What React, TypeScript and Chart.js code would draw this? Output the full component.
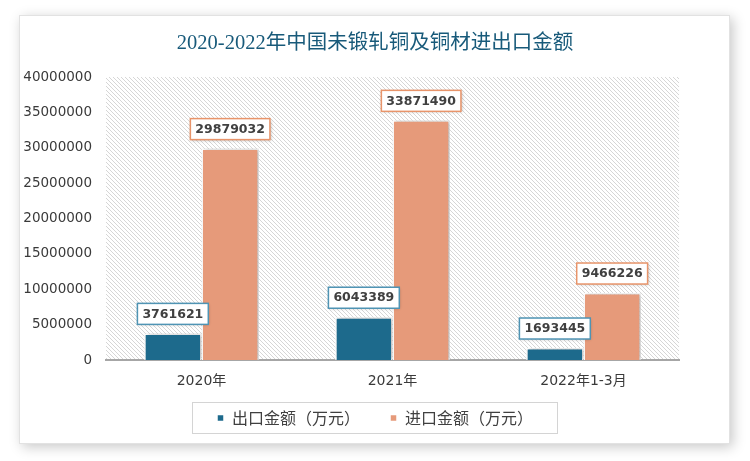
import { useEffect, useRef } from 'react';
import { Chart, registerables } from 'chart.js';

Chart.register(...registerables);

const titleText = '2020-2022年中国未锻轧铜及铜材进出口金额';
const categories = ['2020年', '2021年', '2022年1-3月'];
const seriesNames = ['出口金额（万元）', '进口金额（万元）'];
const exportValues = [3761621, 6043389, 1693445];
const importValues = [29879032, 33871490, 9466226];
const yMin = 0;
const yMax = 40000000;
const yStep = 5000000;

const barColors = ['#1d6a8c', '#e69a7a'];
const labelBorderColors = ['#4f94b4', '#e8946a'];

function makeHatch(): CanvasPattern | string {
  const c = document.createElement('canvas');
  c.width = 4;
  c.height = 4;
  const g = c.getContext('2d');
  if (!g) return '#eee';
  g.fillStyle = '#ffffff';
  g.fillRect(0, 0, 4, 4);
  g.fillStyle = '#d6d6d6';
  for (let i = 0; i < 4; i++) g.fillRect(i, i, 1, 1);
  const p = g.createPattern(c, 'repeat');
  return p || '#eee';
}

const hatchPlugin = {
  id: 'hatchBg',
  beforeDraw(chart: any) {
    const { ctx, chartArea } = chart;
    if (!chartArea) return;
    ctx.save();
    ctx.fillStyle = makeHatch();
    ctx.fillRect(chartArea.left, chartArea.top, chartArea.right - chartArea.left, chartArea.bottom - chartArea.top);
    ctx.restore();
  },
};

const titlePlugin = {
  id: 'centerTitle',
  afterDraw(chart: any) {
    const ctx = chart.ctx;
    ctx.save();
    ctx.font = '20.5px "Liberation Serif", "Noto Sans CJK SC", serif';
    ctx.fillStyle = '#185a7a';
    ctx.textAlign = 'center';
    ctx.textBaseline = 'middle';
    ctx.fillText(titleText, chart.width / 2, 44);
    ctx.restore();
  },
};

const barShadowPlugin = {
  id: 'barShadow',
  beforeDatasetDraw(chart: any) {
    const ctx = chart.ctx;
    ctx.save();
    ctx.shadowColor = 'rgba(0,0,0,0.28)';
    ctx.shadowBlur = 4;
    ctx.shadowOffsetX = 2;
    ctx.shadowOffsetY = 0;
  },
  afterDatasetDraw(chart: any) {
    chart.ctx.restore();
  },
};

const labelPlugin = {
  id: 'boxLabels',
  afterDatasetsDraw(chart: any) {
    const ctx = chart.ctx;
    ctx.save();
    ctx.font = 'bold 12.5px "DejaVu Sans"';
    ctx.textAlign = 'center';
    ctx.textBaseline = 'middle';
    chart.data.datasets.forEach((ds: any, di: number) => {
      const meta = chart.getDatasetMeta(di);
      meta.data.forEach((bar: any, i: number) => {
        const text = String(ds.data[i]);
        const tw = ctx.measureText(text).width;
        const w = tw + 10;
        const h = 21;
        const x = bar.x - w / 2;
        const y = bar.y - 9 - h;
        ctx.save();
        ctx.shadowColor = 'rgba(0,0,0,0.25)';
        ctx.shadowBlur = 3;
        ctx.shadowOffsetX = 1;
        ctx.shadowOffsetY = 1;
        ctx.fillStyle = '#ffffff';
        ctx.fillRect(x, y, w, h);
        ctx.restore();
        ctx.strokeStyle = labelBorderColors[di];
        ctx.lineWidth = 1.5;
        ctx.strokeRect(x, y, w, h);
        ctx.fillStyle = '#404040';
        ctx.fillText(text, bar.x, y + h / 2 + 0.5);
      });
    });
    ctx.restore();
  },
};

const legendBoxPlugin = {
  id: 'legendBox',
  afterDraw(chart: any) {
    const ctx = chart.ctx;
    ctx.save();
    ctx.strokeStyle = '#d4d4d4';
    ctx.lineWidth = 1;
    ctx.strokeRect(192.5, 402.5, 365, 31);
    ctx.restore();
  },
};

export default function App() {
  const ref = useRef<HTMLCanvasElement | null>(null);
  useEffect(() => {
    if (!ref.current) return;
    const chart = new Chart(ref.current, {
      type: 'bar',
      data: {
        labels: categories,
        datasets: [
          {
            label: seriesNames[0],
            data: exportValues,
            backgroundColor: barColors[0],
            borderColor: '#ffffff',
            borderWidth: 1.5,
            categoryPercentage: 0.6,
            barPercentage: 1,
          },
          {
            label: seriesNames[1],
            data: importValues,
            backgroundColor: barColors[1],
            borderColor: '#ffffff',
            borderWidth: 1.5,
            categoryPercentage: 0.6,
            barPercentage: 1,
          },
        ],
      },
      options: {
        animation: false,
        responsive: false,
        maintainAspectRatio: false,
        layout: { padding: { left: 0, right: 0, top: 77, bottom: 25 } },
        plugins: {
          title: { display: false },
          legend: {
            display: true,
            position: 'bottom',
            labels: {
              boxWidth: 7,
              boxHeight: 7,
              padding: 30,
              color: '#404040',
              font: { family: '"Noto Sans CJK SC", sans-serif', size: 16 },
            },
          },
          tooltip: { enabled: false },
        },
        scales: {
          x: {
            grid: { display: false, drawTicks: false },
            border: { display: true, color: '#a6a6a6', width: 2 },
            ticks: {
              mirror: true,
              padding: -29.4,
              color: '#3a3a3a',
              font: { family: '"DejaVu Sans", "Noto Sans CJK SC", sans-serif', size: 14 },
            },
            afterFit: (s: any) => {
              s.height = 20;
            },
          },
          y: {
            min: yMin,
            max: yMax,
            grid: { display: false, drawTicks: false },
            border: { display: false },
            ticks: {
              stepSize: yStep,
              padding: 14,
              color: '#3a3a3a',
              font: { family: '"DejaVu Sans", sans-serif', size: 13.5 },
              callback: (v: any) => String(v),
            },
            afterFit: (s: any) => {
              s.width = 106;
            },
          },
          ySpacer: {
            type: 'linear',
            position: 'right',
            display: true,
            grid: { display: false, drawTicks: false },
            border: { display: false },
            ticks: { display: false },
            afterFit: (s: any) => {
              s.width = 71;
            },
          },
        },
      },
      plugins: [hatchPlugin, barShadowPlugin, labelPlugin, legendBoxPlugin, titlePlugin],
    } as any);
    return () => chart.destroy();
  }, []);

  return (
    <div style={{ position: 'fixed', left: 0, top: 0, width: 750, height: 461, background: '#ffffff', overflow: 'hidden' }}>
      <div
        style={{
          position: 'absolute',
          left: 19,
          top: 15,
          width: 709,
          height: 427,
          border: '1px solid #e2e2e2',
          background: '#ffffff',
          boxShadow: '3px 3px 12px rgba(0,0,0,0.22)',
        }}
      />
      <canvas ref={ref} width={750} height={461} style={{ position: 'absolute', left: 0, top: 0, width: 750, height: 461 }} />
    </div>
  );
}
